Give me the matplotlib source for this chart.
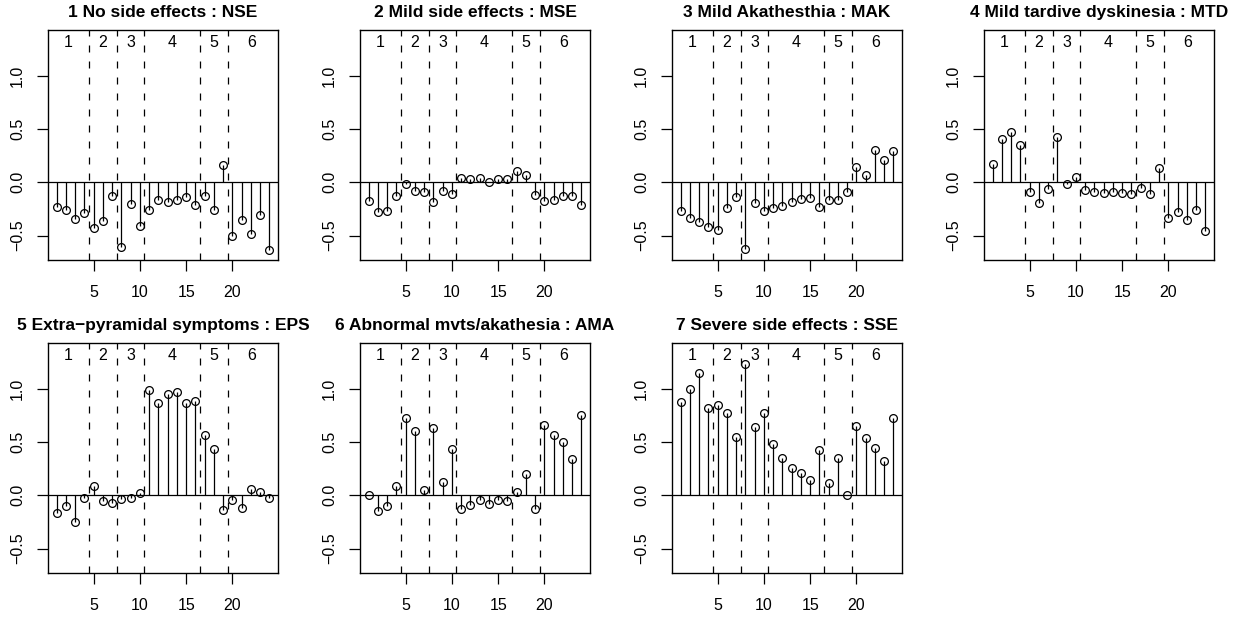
import matplotlib
matplotlib.use("Agg")
import matplotlib.pyplot as plt
import numpy as np

plt.rcParams['font.family'] = ['Liberation Sans', 'DejaVu Sans']

titles = [
    "1 No side effects : NSE",
    "2 Mild side effects : MSE",
    "3 Mild Akathesthia : MAK",
    "4 Mild tardive dyskinesia : MTD",
    "5 Extra\u2212pyramidal symptoms : EPS",
    "6 Abnormal mvts/akathesia : AMA",
    "7 Severe side effects : SSE",
]

nse = [-0.233, -0.264, -0.343, -0.289, -0.431, -0.362, -0.126, -0.610, -0.208, -0.406,
       -0.258, -0.167, -0.189, -0.164, -0.138, -0.214, -0.126, -0.258, 0.160, -0.509,
       -0.352, -0.487, -0.308, -0.635]
mse = [-0.179, -0.277, -0.274, -0.126, -0.013, -0.079, -0.091, -0.182, -0.079, -0.107,
       0.038, 0.028, 0.038, 0.003, 0.031, 0.031, 0.104, 0.072, -0.116, -0.179,
       -0.167, -0.129, -0.129, -0.217]
mak = [-0.274, -0.336, -0.377, -0.418, -0.450, -0.245, -0.135, -0.623, -0.198, -0.267,
       -0.245, -0.226, -0.182, -0.157, -0.148, -0.236, -0.167, -0.164, -0.094, 0.145,
       0.072, 0.299, 0.208, 0.289]
mtd = [0.176, 0.409, 0.472, 0.349, -0.091, -0.195, -0.063, 0.428, -0.013, 0.047,
       -0.069, -0.094, -0.104, -0.094, -0.104, -0.107, -0.053, -0.113, 0.138, -0.336,
       -0.283, -0.358, -0.258, -0.456]
eps = [-0.164, -0.101, -0.248, -0.025, 0.085, -0.053, -0.072, -0.038, -0.022, 0.025,
       0.991, 0.868, 0.947, 0.972, 0.868, 0.881, 0.566, 0.437, -0.135, -0.044,
       -0.119, 0.063, 0.028, -0.025]
ama = [0.006, -0.148, -0.101, 0.091, 0.726, 0.607, 0.050, 0.632, 0.126, 0.434,
       -0.132, -0.091, -0.047, -0.082, -0.041, -0.057, 0.031, 0.204, -0.132, 0.663,
       0.566, 0.497, 0.336, 0.755]
sse = [0.874, 1.000, 1.148, 0.821, 0.852, 0.770, 0.547, 1.236, 0.645, 0.777,
       0.484, 0.346, 0.258, 0.208, 0.148, 0.421, 0.116, 0.346, 0.006, 0.648,
       0.541, 0.447, 0.318, 0.726]

series = [nse, mse, mak, mtd, eps, ama, sse]
x = np.arange(1, 25)

group_bounds = [4.5, 7.5, 10.5, 16.5, 19.5]
group_labels = ["1", "2", "3", "4", "5", "6"]
group_label_x = [2.25, 6, 9, 13.5, 18, 22.1]

xticks = [5, 10, 15, 20]
yticks = [-0.5, 0.0, 0.5, 1.0]
ytick_labels = ["\u22120.5", "0.0", "0.5", "1.0"]

W, H = 1234, 617
fig = plt.figure(figsize=(W / 100, H / 100), dpi=100)

px = 0.72  # one pixel in points
lw = 1.25 * px

for i, (vals, title) in enumerate(zip(series, titles)):
    r, c = divmod(i, 4)
    left = 48 + 312 * c
    top = 30 + 313 * r
    ax = fig.add_axes([left / W, 1 - (top + 230) / H, 230 / W, 230 / H])
    ax.set_xlim(0.08, 24.92)
    ax.set_ylim(-0.73, 1.43)
    for b in group_bounds:
        ax.axvline(b, color='black', lw=lw, linestyle=(0, (5.6, 7.2)))
    ax.axhline(0, color='black', lw=lw)
    ax.vlines(x, 0, vals, color='black', lw=lw)
    ax.plot(x, vals, linestyle='none', marker='o', markersize=5.6,
            markerfacecolor='none', markeredgecolor='black', markeredgewidth=lw)
    for gx, gl in zip(group_label_x, group_labels):
        ax.text(gx, 1.27, gl, ha='center', va='baseline', fontsize=11.5)
    ax.text(0.5, 1 + 12.7 / 230, title, transform=ax.transAxes, ha='center',
            va='baseline', fontsize=12.5, fontweight='bold')
    ax.set_xticks(xticks)
    ax.set_xticklabels([str(t) for t in xticks])
    ax.set_yticks(yticks)
    ax.set_yticklabels(ytick_labels, rotation=90, va='center')
    ax.tick_params(axis='both', direction='out', length=11 * px, width=lw,
                   labelsize=11.5)
    ax.tick_params(axis='x', pad=10)
    ax.tick_params(axis='y', pad=8.5)
    for s in ax.spines.values():
        s.set_linewidth(lw * 1.1)

fig.savefig("out.png", dpi=100)
